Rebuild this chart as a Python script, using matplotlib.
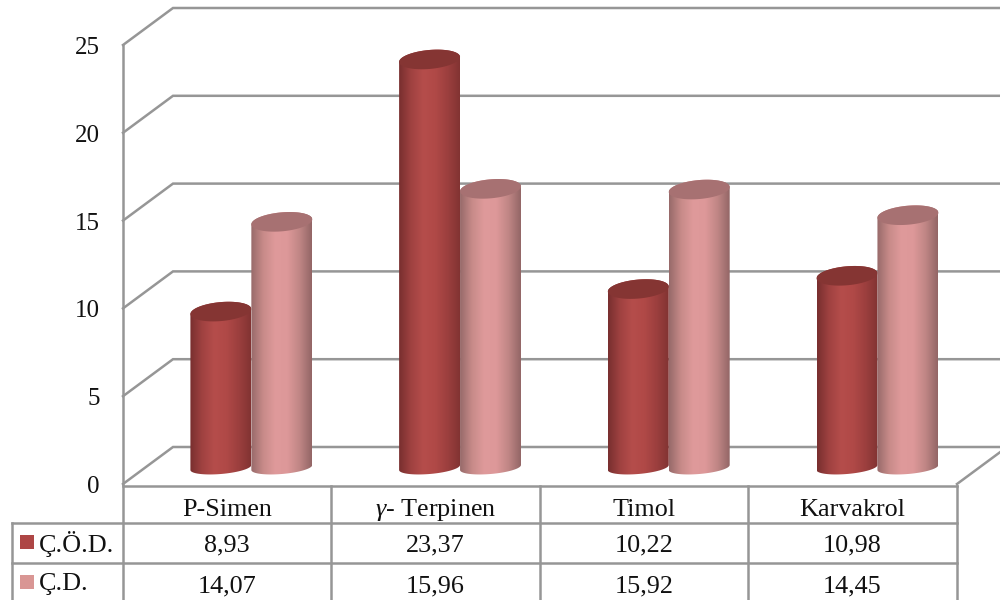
import numpy as np
import matplotlib
matplotlib.use("Agg")
import matplotlib.pyplot as plt
from matplotlib.colors import LinearSegmentedColormap
from matplotlib.patches import PathPatch, Polygon, Rectangle
from matplotlib.path import Path

categories = ["P-Simen", "$\\gamma$- Terpinen", "Timol", "Karvakrol"]
series_names = ["Ç.Ö.D.", "Ç.D."]
cod_values = [8.93, 23.37, 10.22, 10.98]
cd_values = [14.07, 15.96, 15.92, 14.45]
cod_labels = ["8,93", "23,37", "10,22", "10,98"]
cd_labels = ["14,07", "15,96", "15,92", "14,45"]
y_ticks = [0, 5, 10, 15, 20, 25]

GRID = "#969696"
DARK_RED = "#AE4645"
PINK = "#D99694"
TEXT = "#111111"
FONT = "Liberation Serif"
TABLE_SIZE = 18.8

plt.rcParams["font.family"] = FONT
plt.rcParams["mathtext.fontset"] = "custom"
plt.rcParams["mathtext.it"] = FONT + ":italic"
plt.rcParams["mathtext.rm"] = FONT

dark_map = LinearSegmentedColormap.from_list(
    "dark", ["#782F2F", "#A04241", "#B54D4B", "#B04947", "#9C3F3E", "#823332"])
pink_map = LinearSegmentedColormap.from_list(
    "pink", ["#976A6A", "#C88B89", "#DF9A9B", "#DD9899", "#C08685", "#936666"])

fig = plt.figure(figsize=(10, 6), dpi=100, facecolor="white")

# frame axes work in image pixels: walls, floor and data table
frame = fig.add_axes([0, 0, 1, 1])
frame.set_xlim(0, 1000)
frame.set_ylim(600, 0)
frame.axis("off")

px_per_unit = 17.56
front_zero = 484
back_zero = 447
wall_left = 123
wall_back = 173

for tick in y_ticks:
    front_y = front_zero - tick * px_per_unit
    back_y = back_zero - tick * px_per_unit
    frame.plot([wall_left, wall_back, 1000], [front_y, back_y, back_y],
               color=GRID, lw=1.8, solid_joinstyle="miter")
    frame.text(100, front_y + 3, str(tick), ha="right", va="center",
               fontsize=18, color=TEXT)

frame.plot([wall_left, wall_left], [front_zero - 25 * px_per_unit, front_zero],
           color=GRID, lw=1.8)
frame.plot([957, 1003], [484, 450], color=GRID, lw=1.8)

# table grid
col_edges = [123, 331, 540, 748, 957]
table_top = 486
row_edges = [523, 563]
frame.plot([wall_left, 957], [table_top, table_top], color=GRID, lw=1.8)
frame.plot([12, 957], [row_edges[0], row_edges[0]], color=GRID, lw=1.8)
frame.plot([12, 957], [row_edges[1], row_edges[1]], color=GRID, lw=1.8)
frame.plot([12, 12], [row_edges[0], 600], color=GRID, lw=1.8)
for edge in col_edges:
    frame.plot([edge, edge], [table_top, 600], color=GRID, lw=1.8)

centers = [(a + b) / 2 for a, b in zip(col_edges[:-1], col_edges[1:])]
for cx, name, cod, cd in zip(centers, categories, cod_labels, cd_labels):
    frame.text(cx, 510, name, ha="center", va="center", fontsize=TABLE_SIZE, color=TEXT)
    frame.text(cx, 545, cod, ha="center", va="center", fontsize=TABLE_SIZE, color=TEXT)
    frame.text(cx, 586, cd, ha="center", va="center", fontsize=TABLE_SIZE, color=TEXT)

for name, color, y in zip(series_names, [DARK_RED, PINK], [535, 575]):
    frame.add_patch(Rectangle((20, y), 14, 14, fc=color, ec="none"))
    frame.text(39, y + 9, name, ha="left", va="center", fontsize=TABLE_SIZE, color=TEXT)

# cylinders live on a value axis, the zero sits at the middle of the floor
base_px = 467.5
bar_scale = 17.46
y_low, y_high = -2, 26
left_px, right_px = 147.0, 981.8
bars = fig.add_axes([left_px / 1000,
                     (600 - (base_px - y_low * bar_scale)) / 600,
                     (right_px - left_px) / 1000,
                     (y_high - y_low) * bar_scale / 600])
bars.patch.set_alpha(0)
bars.axis("off")

half_width = 0.146
top_h = 9.5 / bar_scale
base_h = 6.5 / bar_scale
ellipse_tilt = 2.5 / bar_scale


def lower_arc(cx, cy, h, n=40):
    t = np.linspace(np.pi, 2 * np.pi, n)
    return np.column_stack([cx + half_width * np.cos(t),
                            cy + h * np.sin(t) + ellipse_tilt * np.cos(t)])


def upper_arc(cx, cy, h, n=40):
    t = np.linspace(0, np.pi, n)
    return np.column_stack([cx + half_width * np.cos(t),
                            cy + h * np.sin(t) + ellipse_tilt * np.cos(t)])


def draw_cylinder(cx, value, cmap, top_color, z):
    outline = np.vstack([lower_arc(cx, 0, base_h), upper_arc(cx, value, top_h)])
    body = Polygon(outline, closed=True, fc="none", ec="none",
                   transform=bars.transData)
    bars.add_patch(body)
    shade = np.linspace(0, 1, 128).reshape(1, -1)
    im = bars.imshow(shade, cmap=cmap, aspect="auto", zorder=z,
                     extent=[cx - half_width, cx + half_width, -2, value + 2],
                     interpolation="bilinear")
    im.set_clip_path(body)
    top = np.vstack([upper_arc(cx, value, top_h), lower_arc(cx, value, top_h)])
    bars.add_patch(PathPatch(Path(np.vstack([top, top[0]])), fc=top_color,
                             ec="none", zorder=z + 1))


for i, (cod, cd) in enumerate(zip(cod_values, cd_values)):
    draw_cylinder(i - half_width, cod, dark_map, "#853533", 3)
    draw_cylinder(i + half_width, cd, pink_map, "#A77172", 5)

bars.set_xlim(-0.5, 3.5)
bars.set_ylim(y_low, y_high)

fig.savefig("out.png", dpi=100)
